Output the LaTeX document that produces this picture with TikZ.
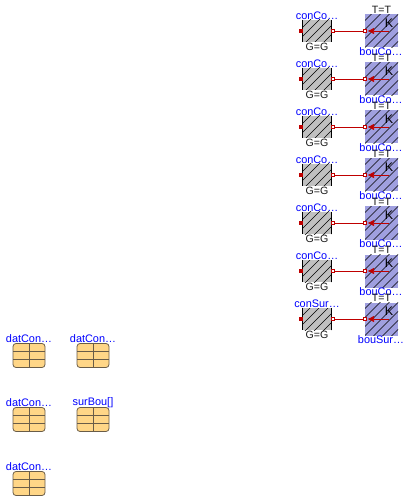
\documentclass[tikz,border=0pt]{standalone}
\usepackage{fontspec}
\setmainfont{Liberation Sans}
\usetikzlibrary{arrows.meta}
\definecolor{hatchgray}{RGB}{192,192,192}
\definecolor{hatchblue}{RGB}{159,159,223}
\definecolor{wirered}{RGB}{191,0,0}
\definecolor{recyellow}{RGB}{255,214,135}
\definecolor{recline}{RGB}{105,92,72}

\begin{document}
\begin{tikzpicture}[x=1pt, y=-1pt, inner sep=0pt, outer sep=0pt,
  lbl/.style={font=\fontsize{10.9}{11}\selectfont, text=blue, anchor=center},
  par/.style={font=\fontsize{10.6}{11}\selectfont, text=black!90, anchor=center},
  hatchline/.style={line width=.6pt},
  conblock/.style={rectangle, minimum width=29.5pt, minimum height=22pt, fill=hatchgray},
  boublock/.style={rectangle, minimum width=33pt, minimum height=33pt, fill=hatchblue},
  portin/.style={rectangle, minimum size=3.6pt, fill=wirered},
  portout/.style={rectangle, minimum size=3.4pt, draw=wirered, line width=.6pt, fill=white},
  recblock/.style={rectangle, rounded corners=3pt, minimum width=32pt, minimum height=24pt, draw=recline, line width=.8pt, fill=recyellow},
  wire/.style={draw=wirered, line width=.7pt},
  arrowwire/.style={draw=wirered, line width=.7pt, -{Latex[length=6.5pt,width=6.5pt]}}]

  \useasboundingbox (0,0) rectangle (409,502);

  % conductor and boundary rows
  \foreach \i/\y/\namea/\nameb in {1/31/conCo…/bouCo…, 2/79/conCo…/bouCo…, 3/127/conCo…/bouCo…,
      4/175/conCo…/bouCo…, 5/223/conCo…/bouCo…, 6/271/conCo…/bouCo…, 7/319/conSur…/bouSur…} {
    \node[par] (tt\i) at (381.5,\y-21) {T=T};
    \node[conblock] (con\i) at (317,\y) {};
    \node[boublock] (bou\i) at (381.5,\y) {};
    % hatching
    \begin{scope}
      \clip (con\i.south west) rectangle (con\i.north east);
      \foreach \d in {-36,-27,...,36}
        \draw[hatchline] ([xshift=\d pt]con\i.center) ++(-30,30) -- ++(60,-60);
    \end{scope}
    \begin{scope}
      \clip (bou\i.south west) rectangle (bou\i.north east);
      \foreach \d in {-45,-36,...,45}
        \draw[hatchline] ([xshift=\d pt]bou\i.center) ++(-30,30) -- ++(60,-60);
    \end{scope}
    \draw[line width=.8pt] (con\i.north west) -- (con\i.south west);
    \draw[line width=.8pt] (con\i.north east) -- (con\i.south east);
    \node[portin] (conIn\i) at (301,\y) {};
    \node[portout] (conOut\i) at (333,\y) {};
    \node[portout] (bouIn\i) at (365,\y) {};
    \coordinate (bouTip\i) at (367.5,\y);
    \coordinate (bouEnd\i) at (389,\y);
    \node[lbl] (conName\i) at (317,\y-15.5) {\namea};
    \node[par] (conPar\i) at (317,\y+16) {G=G};
    \node[lbl] (bouName\i) at (381,\y+21) {\nameb};
    \node[font=\fontsize{12.5}{12}\selectfont] (bouK\i) at (389,\y-8) {K};
    \draw[wire] (conOut\i) -- (bouIn\i);
    \draw[arrowwire] (bouEnd\i) -- (bouTip\i);
  }

  % data records
  \foreach \n/\x/\y/\name in {a/29/355.5/datCon…, b/93/355.5/datCon…, c/29/419.5/datCon…, d/93/419.5/surBou[], e/29/483.5/datCon…} {
    \node[recblock] (rec\n) at (\x,\y) {};
    \draw[recline, line width=.8pt] (rec\n.north) -- (rec\n.south);
    \draw[recline, line width=.8pt] ([yshift=-8pt]rec\n.north west) -- ([yshift=-8pt]rec\n.north east);
    \draw[recline, line width=.8pt] ([yshift=8pt]rec\n.south west) -- ([yshift=8pt]rec\n.south east);
    \node[lbl] (recName\n) at (\x,\y-17) {\name};
  }

\end{tikzpicture}
\end{document}
